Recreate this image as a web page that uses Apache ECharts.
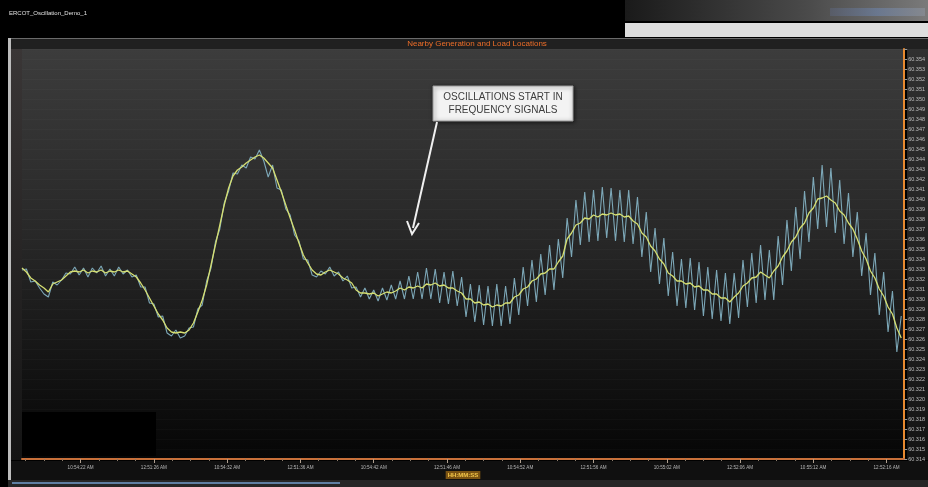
<!DOCTYPE html>
<html>
<head>
<meta charset="utf-8">
<script src="https://cdn.jsdelivr.net/npm/echarts@6/dist/echarts.min.js"></script>
<style>
  html, body { margin: 0; padding: 0; background: #000; }
  #chart { width: 928px; height: 487px; }
</style>
</head>
<body>
<div id="chart"></div>
<script>
// Seconds between consecutive samples of both traces
const sampleStep = 0.3;

// Time-axis tick positions (seconds from window start) and their labels
const tickTimes = [4, 9, 14, 19, 24, 29, 34, 39, 44, 49, 54, 59];
const tickLabels = [
  '10:54:22 AM', '12:51:26 AM', '10:54:32 AM', '12:51:36 AM',
  '10:54:42 AM', '12:51:46 AM', '10:54:52 AM', '12:51:56 AM',
  '10:55:02 AM', '12:52:06 AM', '10:55:12 AM', '12:52:16 AM'
];
const minorTickTimes = [
  0.25, 1.5, 2.75, 5.25, 6.5, 7.75, 10.25, 11.5, 12.75, 15.25, 16.5, 17.75,
  20.25, 21.5, 22.75, 25.25, 26.5, 27.75, 30.25, 31.5, 32.75, 35.25, 36.5, 37.75,
  40.25, 41.5, 42.75, 45.25, 46.5, 47.75, 50.25, 51.5, 52.75, 55.25, 56.5, 57.75
];

// Frequency (Hz), smoothed trace
const frequencySmoothed = [
  60.3331, 60.3327, 60.3321, 60.3318, 60.3314, 60.3311, 60.3307, 60.3315, 60.3317, 60.3319,
  60.3323, 60.3327, 60.3328, 60.3327, 60.3329, 60.3326, 60.3328, 60.3327, 60.3329, 60.3326,
  60.3328, 60.3327, 60.3329, 60.3327, 60.3328, 60.3325, 60.3322, 60.3316, 60.3309, 60.3301,
  60.3293, 60.3285, 60.3279, 60.3271, 60.3267, 60.3266, 60.3267, 60.3266, 60.3269, 60.3276,
  60.3287, 60.3299, 60.3314, 60.3334, 60.3354, 60.3374, 60.3394, 60.3411, 60.3423, 60.3429,
  60.3432, 60.3436, 60.3439, 60.3442, 60.3444, 60.3441, 60.3436, 60.3431, 60.3419, 60.3407,
  60.3394, 60.3381, 60.3369, 60.3356, 60.3344, 60.3336, 60.3329, 60.3325, 60.3324, 60.3327,
  60.3329, 60.3327, 60.3325, 60.3321, 60.3319, 60.3316, 60.3309, 60.3306, 60.3306, 60.3305,
  60.3306, 60.3303, 60.3305, 60.3307, 60.3306, 60.3308, 60.3311, 60.3309, 60.3312, 60.3311,
  60.3313, 60.3311, 60.3315, 60.3314, 60.3316, 60.3313, 60.3314, 60.3311, 60.3311, 60.3308,
  60.3306, 60.3300, 60.3300, 60.3296, 60.3297, 60.3294, 60.3295, 60.3292, 60.3294, 60.3293,
  60.3296, 60.3296, 60.3302, 60.3304, 60.3310, 60.3312, 60.3318, 60.3320, 60.3325, 60.3326,
  60.3330, 60.3330, 60.3337, 60.3343, 60.3360, 60.3366, 60.3374, 60.3376, 60.3381, 60.3380,
  60.3384, 60.3382, 60.3385, 60.3384, 60.3386, 60.3384, 60.3385, 60.3382, 60.3383, 60.3378,
  60.3375, 60.3366, 60.3362, 60.3353, 60.3348, 60.3340, 60.3335, 60.3326, 60.3323, 60.3318,
  60.3318, 60.3315, 60.3316, 60.3312, 60.3313, 60.3309, 60.3309, 60.3305, 60.3305, 60.3301,
  60.3301, 60.3297, 60.3302, 60.3306, 60.3313, 60.3316, 60.3321, 60.3322, 60.3327, 60.3324,
  60.3321, 60.3328, 60.3333, 60.3342, 60.3348, 60.3357, 60.3362, 60.3371, 60.3376, 60.3386,
  60.3391, 60.3400, 60.3401, 60.3403, 60.3399, 60.3396, 60.3388, 60.3384, 60.3376, 60.3370,
  60.3360, 60.3348, 60.3340, 60.3328, 60.3321, 60.3310, 60.3303, 60.3292, 60.3285, 60.3271,
  60.3261
];

// Frequency (Hz), raw measurement trace
const frequencyRaw = [
  60.3329, 60.3330, 60.3317, 60.3318, 60.3311, 60.3305, 60.3302, 60.3317, 60.3314, 60.3319,
  60.3326, 60.3325, 60.3332, 60.3324, 60.3331, 60.3322, 60.3331, 60.3326, 60.3333, 60.3323,
  60.3330, 60.3323, 60.3332, 60.3325, 60.3329, 60.3322, 60.3324, 60.3312, 60.3312, 60.3296,
  60.3295, 60.3282, 60.3283, 60.3266, 60.3263, 60.3269, 60.3261, 60.3263, 60.3271, 60.3272,
  60.3290, 60.3294, 60.3318, 60.3331, 60.3357, 60.3370, 60.3396, 60.3408, 60.3426, 60.3425,
  60.3434, 60.3431, 60.3442, 60.3440, 60.3449, 60.3438, 60.3422, 60.3434, 60.3411, 60.3409,
  60.3390, 60.3384, 60.3364, 60.3358, 60.3340, 60.3339, 60.3324, 60.3322, 60.3328, 60.3325,
  60.3332, 60.3323, 60.3327, 60.3318, 60.3323, 60.3311, 60.3312, 60.3302, 60.3311, 60.3300,
  60.3309, 60.3298, 60.3311, 60.3299, 60.3314, 60.3300, 60.3318, 60.3300, 60.3323, 60.3300,
  60.3327, 60.3300, 60.3331, 60.3300, 60.3330, 60.3296, 60.3327, 60.3295, 60.3328, 60.3293,
  60.3322, 60.3282, 60.3315, 60.3277, 60.3314, 60.3274, 60.3313, 60.3273, 60.3315, 60.3273,
  60.3313, 60.3275, 60.3321, 60.3284, 60.3332, 60.3293, 60.3339, 60.3297, 60.3345, 60.3304,
  60.3354, 60.3309, 60.3360, 60.3321, 60.3381, 60.3342, 60.3399, 60.3354, 60.3407, 60.3357,
  60.3409, 60.3358, 60.3412, 60.3361, 60.3411, 60.3358, 60.3409, 60.3357, 60.3409, 60.3355,
  60.3402, 60.3342, 60.3387, 60.3327, 60.3371, 60.3315, 60.3361, 60.3303, 60.3347, 60.3293,
  60.3340, 60.3291, 60.3341, 60.3289, 60.3337, 60.3283, 60.3332, 60.3280, 60.3329, 60.3278,
  60.3326, 60.3275, 60.3326, 60.3281, 60.3339, 60.3292, 60.3346, 60.3296, 60.3354, 60.3299,
  60.3349, 60.3299, 60.3363, 60.3314, 60.3379, 60.3328, 60.3392, 60.3340, 60.3408, 60.3357,
  60.3422, 60.3370, 60.3434, 60.3372, 60.3431, 60.3366, 60.3419, 60.3355, 60.3406, 60.3342,
  60.3387, 60.3323, 60.3366, 60.3304, 60.3346, 60.3284, 60.3327, 60.3267, 60.3308, 60.3247,
  60.3283
];

const FONT = '"Liberation Sans", Arial, sans-serif';

const withTime = arr => arr.map((v, i) => [+(i * sampleStep).toFixed(2), v]);

const chart = echarts.init(document.getElementById('chart'), null, { renderer: 'canvas' });

const option = {
  backgroundColor: '#000',
  animation: false,
  grid: {
    left: 22, right: 23, top: 49, bottom: 28,
    show: true,
    borderWidth: 0,
    backgroundColor: {
      type: 'linear', x: 0, y: 0, x2: 0, y2: 1,
      colorStops: [
        { offset: 0, color: '#3c3c3c' },
        { offset: 0.45, color: '#282828' },
        { offset: 0.8, color: '#121212' },
        { offset: 1, color: '#060606' }
      ]
    }
  },
  xAxis: [
    {
      type: 'value', min: 0, max: 60.2,
      axisLine: { show: true, onZero: false, lineStyle: { color: '#c8703a', width: 2 } },
      axisTick: { show: true, customValues: tickTimes, length: 4, lineStyle: { color: '#b0a090' } },
      axisLabel: {
        customValues: tickTimes,
        color: '#b8b8b8', fontSize: 4.6, fontFamily: FONT, margin: 6,
        formatter: v => tickLabels[Math.round((v - tickTimes[0]) / 5)] || ''
      },
      splitLine: { show: false }
    },
    {
      type: 'value', min: 0, max: 60.2, position: 'bottom',
      axisLine: { show: false, onZero: false },
      axisTick: { show: true, customValues: minorTickTimes, length: 2, lineStyle: { color: '#8a7a6a' } },
      axisLabel: { show: false },
      splitLine: { show: false }
    }
  ],
  yAxis: {
    type: 'value', position: 'right',
    min: 60.314, max: 60.355, interval: 0.001,
    axisLine: { show: true, onZero: false, lineStyle: { color: '#e8892e', width: 2 } },
    axisTick: { show: true, length: 3, lineStyle: { color: '#9a9a9a' } },
    axisLabel: {
      color: '#bdbdbd', fontSize: 5.5, fontFamily: FONT, margin: 4,
      formatter: v => (v > 60.3545 ? '' : v.toFixed(3))
    },
    splitLine: { show: true, lineStyle: { color: 'rgba(255,255,255,0.025)', width: 1 } }
  },
  series: [
    {
      name: 'Raw',
      type: 'line',
      data: withTime(frequencyRaw),
      showSymbol: false,
      lineStyle: { color: '#86b6c8', width: 1.1, opacity: 0.9 },
      z: 2
    },
    {
      name: 'Smoothed',
      type: 'line',
      data: withTime(frequencySmoothed),
      showSymbol: false,
      lineStyle: { color: '#d6df72', width: 1.3 },
      z: 3
    }
  ],
  graphic: [
    // window caption
    { type: 'text', left: 9, top: 10, style: { text: 'ERCOT_Oscillation_Demo_1', fill: '#e0e0e0', font: '6px ' + FONT } },
    // toolbar strip at top right
    { type: 'rect', shape: { x: 625, y: 0, width: 303, height: 21 },
      style: { fill: { type: 'linear', x: 0, y: 0, x2: 1, y2: 0,
        colorStops: [{ offset: 0, color: '#1a1a1a' }, { offset: 0.6, color: '#4a4a4a' }, { offset: 1, color: '#7a7a7a' }] } } },
    { type: 'rect', shape: { x: 830, y: 8, width: 95, height: 8 },
      style: { fill: { type: 'linear', x: 0, y: 0, x2: 1, y2: 0,
        colorStops: [{ offset: 0, color: '#5a6070' }, { offset: 0.5, color: '#6c7fa0' }, { offset: 1, color: '#8a8f98' }] }, opacity: 0.7 } },
    { type: 'rect', shape: { x: 625, y: 23, width: 303, height: 14 }, style: { fill: '#dedede' } },
    // panel frame
    { type: 'rect', shape: { x: 8, y: 38, width: 920, height: 11 }, style: { fill: '#202020' } },
    { type: 'rect', shape: { x: 8, y: 38, width: 920, height: 1 }, style: { fill: '#6a6a6a' } },
    { type: 'rect', shape: { x: 8, y: 38, width: 3, height: 442 }, style: { fill: '#bdbdbd' } },
    { type: 'rect', shape: { x: 11, y: 49, width: 11, height: 411 },
      style: { fill: { type: 'linear', x: 0, y: 0, x2: 0, y2: 1,
        colorStops: [{ offset: 0, color: '#3a3636' }, { offset: 1, color: '#141414' }] } } },
    { type: 'rect', shape: { x: 907, y: 49, width: 21, height: 411 },
      style: { fill: { type: 'linear', x: 0, y: 0, x2: 0, y2: 1,
        colorStops: [{ offset: 0, color: '#303030' }, { offset: 1, color: '#141414' }] } } },
    { type: 'rect', shape: { x: 11, y: 461, width: 917, height: 19 }, style: { fill: '#101010' } },
    { type: 'rect', shape: { x: 8, y: 480, width: 920, height: 7 }, style: { fill: '#262626' } },
    { type: 'rect', shape: { x: 12, y: 482, width: 328, height: 2 }, style: { fill: '#5f7fa3' } },
    // chart title
    { type: 'text', x: 477, y: 44,
      style: { text: 'Nearby Generation and Load Locations', fill: '#ec6d28', font: '8px ' + FONT, align: 'center', verticalAlign: 'middle' } },
    // time axis name
    { type: 'text', x: 463, y: 475, z: 20,
      style: { text: 'HH:MM:SS', fill: '#f3c64a', font: 'bold 6px ' + FONT, align: 'center', verticalAlign: 'middle',
        backgroundColor: '#7a5212', padding: [1, 2] } },
    // masked legend area
    { type: 'rect', shape: { x: 22, y: 412, width: 134, height: 44 }, style: { fill: '#000' }, z: 50 },
    // annotation callout
    { type: 'rect', shape: { x: 433, y: 86, width: 140, height: 35 }, z: 100,
      style: { fill: '#f3f3f3', stroke: '#9a9a9a', lineWidth: 1, shadowBlur: 4, shadowColor: 'rgba(0,0,0,0.6)', shadowOffsetX: 1, shadowOffsetY: 1 } },
    { type: 'text', x: 503, y: 104, z: 101,
      style: { text: 'OSCILLATIONS START IN\nFREQUENCY SIGNALS', fill: '#3c3c3c', font: '10px ' + FONT,
        align: 'center', verticalAlign: 'middle', lineHeight: 13 } },
    { type: 'line', shape: { x1: 437, y1: 122, x2: 413, y2: 228 }, z: 100,
      style: { stroke: '#f0f0f0', lineWidth: 2 } },
    { type: 'polyline', shape: { points: [[407, 221], [412, 234], [419, 223]] }, z: 100,
      style: { stroke: '#f0f0f0', lineWidth: 2, fill: null } }
  ]
};

chart.setOption(option);
</script>
</body>
</html>
